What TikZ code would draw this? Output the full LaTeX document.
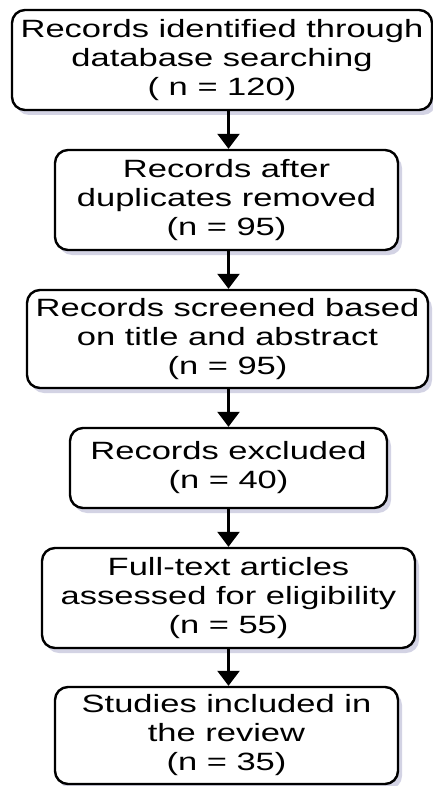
\documentclass[tikz,border=0pt]{standalone}
\usepackage{fontspec}
\setmainfont[FakeStretch=1.38]{Liberation Sans}
\usetikzlibrary{arrows.meta,shadows}
\begin{document}
\begin{tikzpicture}[x=1pt,y=-1pt,
  boxnode/.style={draw=black, line width=2.4pt, rounded corners=13pt, fill=white,
    align=center, inner sep=0pt, font=\fontsize{25}{29}\selectfont,
    drop shadow={shadow xshift=4pt, shadow yshift=-5pt, opacity=0.28, fill=blue!25!gray}},
  arr/.style={line width=2.4pt, -{Triangle[width=22pt,length=15pt]}}]
\useasboundingbox (0,0) rectangle (433,786);
\node[boxnode, minimum width=420pt, minimum height=100pt] (b1) at (222,60)
  {Records identified through\\database searching\\( n = 120)};
\node[boxnode, minimum width=343pt, minimum height=100pt] (b2) at (226.5,200)
  {Records after\\duplicates removed\\(n = 95)};
\node[boxnode, minimum width=401pt, minimum height=98pt] (b3) at (227.5,339)
  {Records screened based\\on title and abstract\\(n = 95)};
\node[boxnode, minimum width=317pt, minimum height=80pt] (b4) at (228.5,468)
  {Records excluded\\(n = 40)};
\node[boxnode, minimum width=373pt, minimum height=100pt] (b5) at (228.5,598)
  {Full-text articles\\assessed for eligibility\\(n = 55)};
\node[boxnode, minimum width=343pt, minimum height=97pt] (b6) at (226.5,735.5)
  {Studies included in\\the review\\(n = 35)};
\draw[arr] (b1.south -| b4.center) -- (b2.north -| b4.center);
\draw[arr] (b2.south -| b4.center) -- (b3.north -| b4.center);
\draw[arr] (b3.south -| b4.center) -- (b4.north);
\draw[arr] (b4.south) -- (b5.north -| b4.center);
\draw[arr] (b5.south -| b4.center) -- (b6.north -| b4.center);
\end{tikzpicture}
\end{document}
